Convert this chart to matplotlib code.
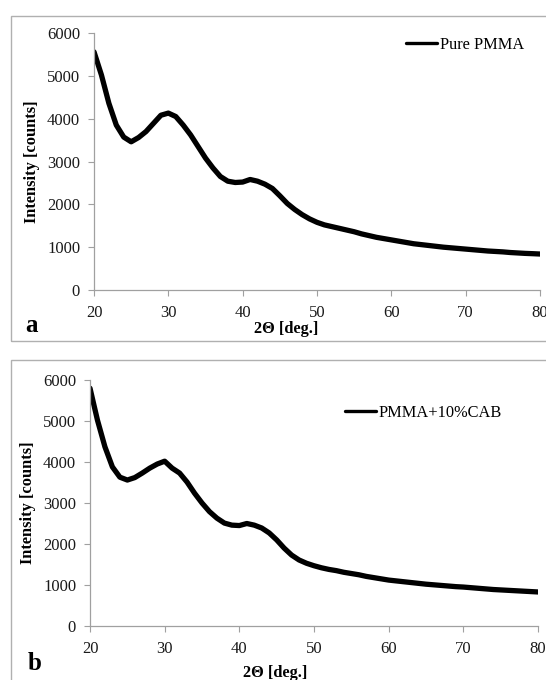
import numpy as np
import matplotlib
matplotlib.use('Agg')
import matplotlib.pyplot as plt
from matplotlib.patches import Rectangle

plt.rcParams['font.family'] = ['Liberation Serif', 'DejaVu Serif']

# 2-theta grid (deg), one reading per degree
two_theta = np.arange(20, 81, 1)

# intensity [counts]
pure_pmma = [5560, 5020, 4360, 3850, 3570, 3460, 3560, 3700, 3890, 4080,
             4130, 4050, 3850, 3620, 3350, 3080, 2850, 2650, 2540, 2510,
             2520, 2580, 2540, 2470, 2370, 2200, 2020, 1880, 1760, 1660,
             1580, 1520, 1480, 1440, 1400, 1360, 1310, 1270, 1230, 1200,
             1170, 1140, 1110, 1080, 1060, 1040, 1020, 1000, 985, 970,
             955, 940, 925, 910, 900, 890, 875, 865, 855, 848,
             840]
pmma_cab = [5800, 5020, 4370, 3880, 3630, 3560, 3620, 3730, 3850, 3950,
            4020, 3850, 3730, 3510, 3240, 3000, 2790, 2630, 2510, 2460,
            2450, 2500, 2460, 2390, 2270, 2100, 1900, 1730, 1610, 1530,
            1470, 1420, 1380, 1350, 1310, 1280, 1250, 1210, 1180, 1150,
            1120, 1100, 1080, 1060, 1040, 1020, 1005, 990, 975, 960,
            950, 935, 920, 905, 890, 880, 870, 860, 850, 840,
            830]

series = [pure_pmma, pmma_cab]
names = ['Pure PMMA', 'PMMA+10%CAB']
letters = ['a', 'b']
xticks = [20, 30, 40, 50, 60, 70, 80]
yticks = [0, 1000, 2000, 3000, 4000, 5000, 6000]

W, H = 546, 680
fig = plt.figure(figsize=(W/100, H/100), dpi=100)

def fx(px):
  return px/W
def fy(py):
  return 1-py/H

# panel frames
fig.patches.append(Rectangle((fx(11), fy(341)), fx(560)-fx(11), fy(16)-fy(341),
                             transform=fig.transFigure, fill=False, ec='#b0b0b0', lw=1))
fig.patches.append(Rectangle((fx(11), fy(700)), fx(560)-fx(11), fy(360)-fy(700),
                             transform=fig.transFigure, fill=False, ec='#b0b0b0', lw=1))

boxes = [(94, 33, 540, 290), (90, 380, 538, 626)]
legpos = [(406, 45), (345, 413)]
xlab = [(286, 329), (275, 673)]
letpos = [(32, 325), (35, 663)]

for i in range(2):
  l, t, r, b = boxes[i]
  ax = fig.add_axes((fx(l), fy(b), (r-l)/W, (b-t)/H))
  ax.plot(two_theta, series[i], color='black', lw=3.8, solid_joinstyle='round',
          solid_capstyle='round', label=names[i])
  ax.set_xlim(20, 80)
  ax.set_ylim(0, 6000)
  ax.set_xticks(xticks)
  ax.set_yticks(yticks)
  for s in ['top', 'right']:
    ax.spines[s].set_visible(False)
  for s in ['left', 'bottom']:
    ax.spines[s].set_color('#a0a0a0')
    ax.spines[s].set_linewidth(0.9)
  ax.tick_params(axis='both', colors='#a0a0a0', labelcolor='#1a1a1a', labelsize=12,
                 length=4, width=0.8)
  ax.tick_params(axis='x', pad=7)
  ax.tick_params(axis='y', pad=6)
  ax.set_ylabel('Intensity [counts]', fontsize=11.8, fontweight='bold', labelpad=5)
  fig.text(fx(xlab[i][0]), fy(xlab[i][1]), '2Θ [deg.]', fontsize=11.8,
           fontweight='bold', ha='center', va='center')
  fig.text(fx(letpos[i][0]), fy(letpos[i][1]), letters[i], fontsize=18,
           fontweight='bold', ha='center', va='center')
  lx, ly = legpos[i]
  leg = ax.legend(loc='center left', bbox_to_anchor=(fx(lx), fy(ly)),
                  bbox_transform=fig.transFigure, frameon=False, fontsize=11.8,
                  handlelength=1.9, handletextpad=0.15, borderpad=0, borderaxespad=0)
  for h in leg.get_lines():
    h.set_linewidth(2.4)

plt.savefig('out.png', dpi=100)
